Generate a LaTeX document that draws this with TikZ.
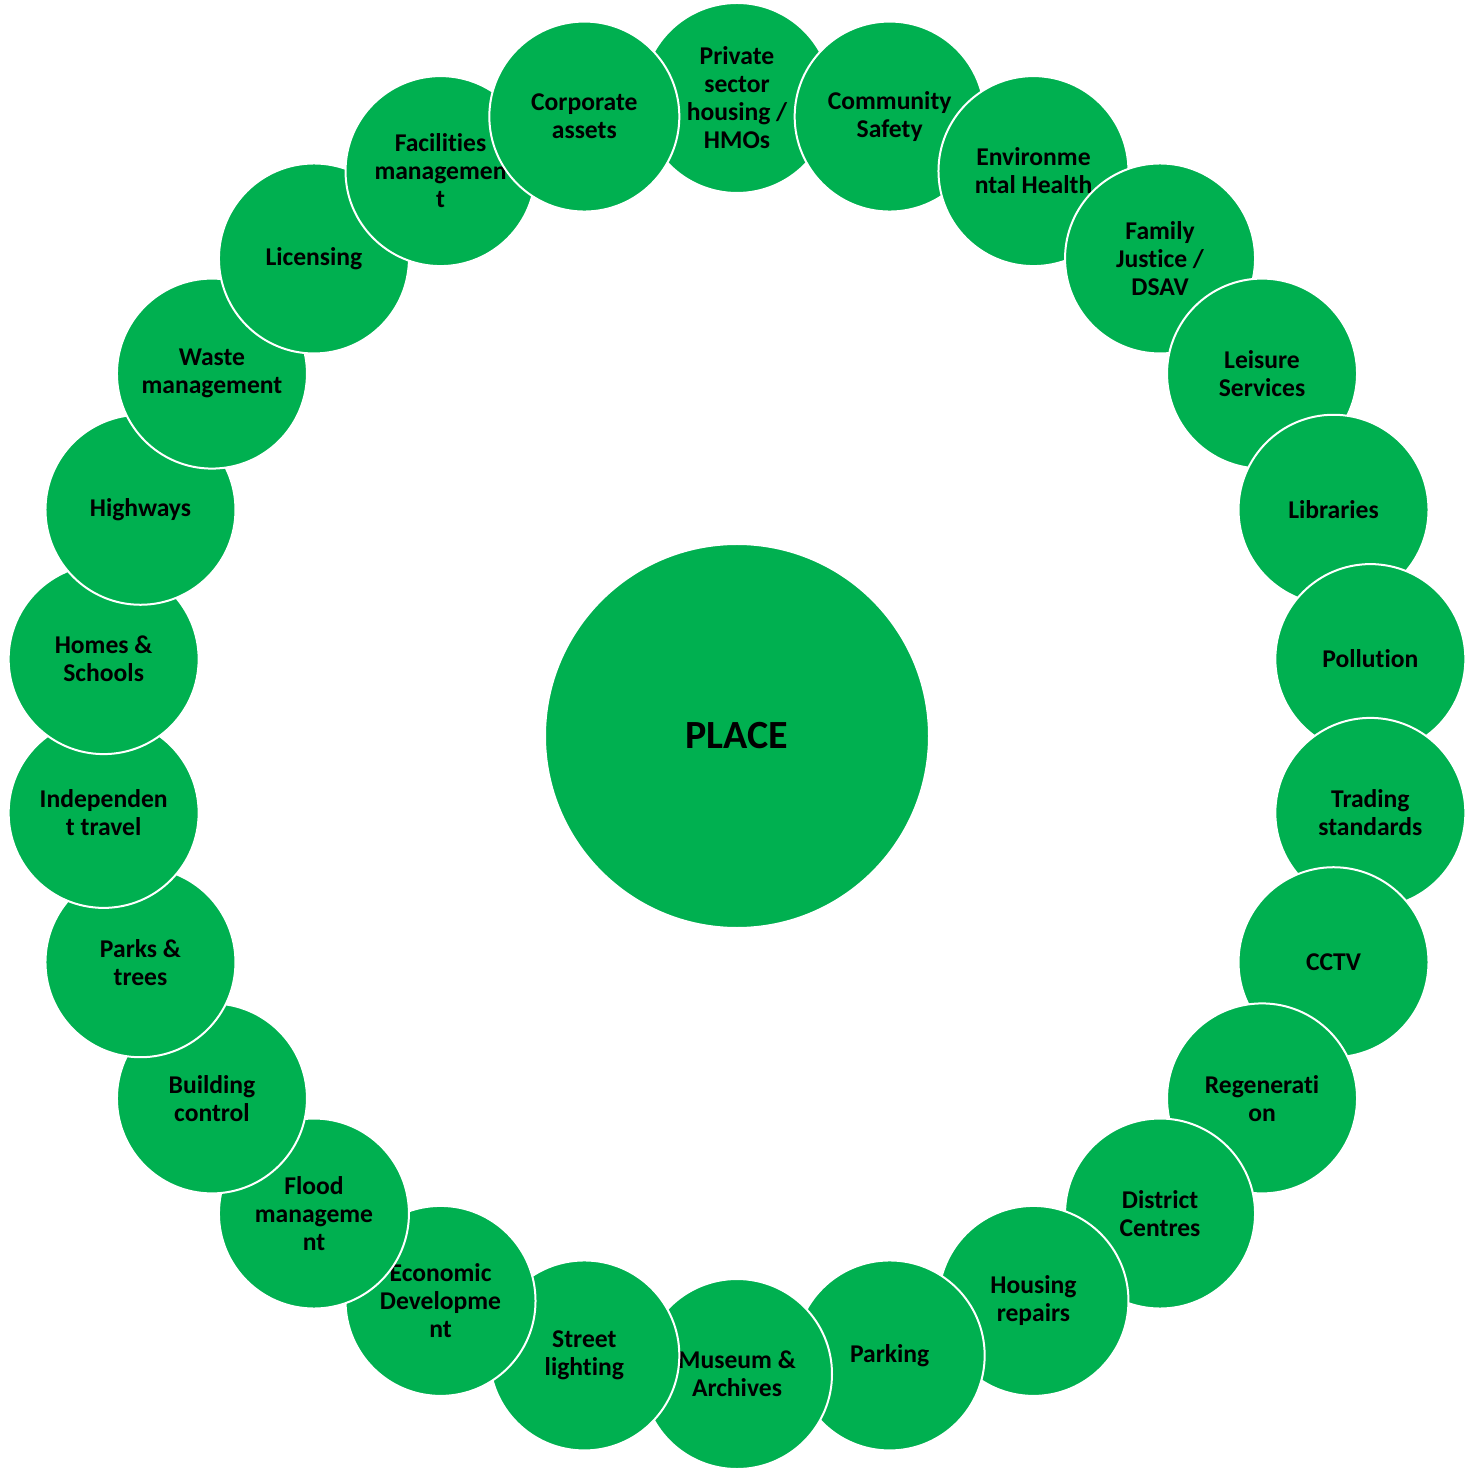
\documentclass[tikz,border=0pt]{standalone}
\usepackage{fontspec}
\setmainfont{Carlito}[Ligatures={NoCommon}]
\definecolor{placegreen}{HTML}{00B050}

\begin{document}
\begin{tikzpicture}[x=0.5pt, y=0.5pt,
  every node/.style={font=\bfseries\fontsize{12.8}{14}\selectfont, text=black, align=center},
  bubble/.style={circle, fill=placegreen, draw=white, line width=1pt, minimum size=95pt, inner sep=0pt}]
\useasboundingbox (-737,-735) rectangle (738,736);
\node[bubble, minimum size=192pt, font=\bfseries\fontsize{20}{24}\selectfont] (place) at (0,0) {PLACE};
% services round the centre, drawn clockwise from the top
\foreach \lbl [count=\i from 0] in {%
  {Private\\sector\\housing /\\HMOs}, {Community\\Safety}, {Environme\\ntal Health},
  {Family\\Justice /\\DSAV}, {Leisure\\Services}, {Libraries}, {Pollution},
  {Trading\\standards}, {CCTV}, {Regenerati\\on}, {District\\Centres},
  {Housing\\repairs}, {Parking}, {Museum \&\\Archives}, {Street\\lighting},
  {Economic\\Developme\\nt}, {Flood\\manageme\\nt}, {Building\\control},
  {Parks \&\\trees}, {Independen\\t travel}, {Homes \&\\Schools}, {Highways},
  {Waste\\management}, {Licensing}, {Facilities\\managemen\\t}, {Corporate\\assets}}{
  \pgfmathsetmacro{\ang}{90-\i*360/26}
  \node[bubble] (s\i) at (\ang:638) {\lbl};
}
\end{tikzpicture}
\end{document}
